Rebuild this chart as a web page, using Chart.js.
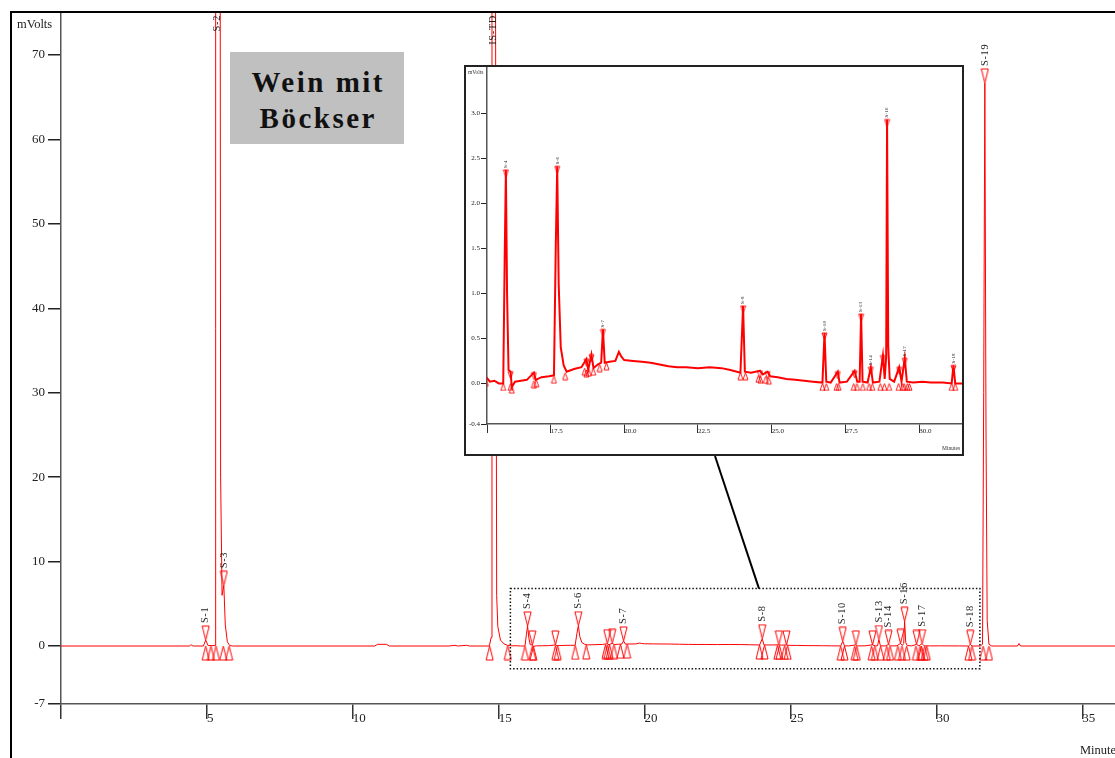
<!DOCTYPE html>
<html>
<head>
<meta charset="utf-8">
<script src="https://cdn.jsdelivr.net/npm/chart.js@4.4.0/dist/chart.umd.min.js"></script>
<style>
html,body{margin:0;padding:0;background:#fff;}
#wrap{position:relative;width:1115px;height:758px;overflow:hidden;background:#fff;}
#main{position:absolute;left:0;top:0;}
#title{position:absolute;left:230px;top:52px;width:174px;height:92px;box-sizing:border-box;padding-top:11.6px;padding-left:2.5px;
  background:#c0c0c0;font:bold 29px "Liberation Serif",serif;letter-spacing:2.5px;color:#111;text-align:center;line-height:36.6px;}
#insetBox{position:absolute;left:464px;top:65px;width:496px;height:387px;border:2px solid #222;background:#fff;overflow:hidden;}
#inset{position:absolute;left:0;top:0;}
</style>
</head>
<body>
<div id="wrap">
  <canvas id="main" width="1115" height="758"></canvas>
  <div id="title">Wein mit<br>Böckser</div>
  <div id="insetBox"><canvas id="inset" width="496" height="387"></canvas></div>
</div>
<script>
// ---------- DATA ----------
const traceMin = [0.00,4.40,4.46,4.52,4.88,4.96,5.04,5.28,5.30,5.37,5.44,5.47,5.52,5.58,5.63,5.70,5.78,5.90,
  10.75,10.85,11.15,11.25,13.30,13.50,13.60,13.90,14.00,14.68,14.74,14.77,14.83,14.89,14.93,14.97,15.06,15.18,15.30,
  15.45,15.60,15.75,15.90,15.95,15.99,16.03,16.08,16.15,16.19,16.30,16.50,16.70,16.94,17.00,17.20,17.45,17.62,17.68,
  17.73,17.78,17.85,17.95,18.05,18.30,18.55,18.72,18.78,18.89,18.96,19.10,19.22,19.28,19.34,19.50,19.70,19.82,19.90,
  20.00,20.30,20.60,20.90,21.20,21.50,21.80,22.10,22.50,22.90,23.30,23.60,23.94,24.03,24.09,24.30,24.60,24.70,24.86,
  24.95,25.20,25.50,25.80,26.10,26.40,26.72,26.79,26.85,27.00,27.24,27.30,27.55,27.81,27.90,27.98,28.03,28.08,28.25,
  28.36,28.43,28.65,28.77,28.83,28.88,28.91,28.95,29.00,29.15,29.32,29.40,29.51,29.58,29.80,30.10,30.40,30.80,31.10,
  31.16,31.22,31.50,31.58,31.62,31.66,31.70,31.74,31.80,31.90,32.78,32.83,32.88,36.50];
const traceMv = [0,0,0.15,0,0,0.7,0.05,0.05,150,250,150,20,6,7.2,2.5,0.5,0.05,0,
  0,0.2,0.2,0,0,0.08,0,0.08,0,0,1.0,80,250,80,6,2.3,0.7,0.25,0.08,
  0.02,0.03,0,0,1.4,2.37,1.0,0.15,0.13,-0.04,0.02,0.03,0.04,0.12,0.04,0.07,0.08,0.09,1.5,
  2.41,1.1,0.4,0.2,0.13,0.16,0.18,0.27,0.15,0.32,0.17,0.21,0.23,0.60,0.23,0.24,0.25,0.35,0.30,
  0.26,0.25,0.24,0.23,0.21,0.19,0.18,0.18,0.17,0.18,0.17,0.15,0.12,0.86,0.13,0.12,0.14,0.10,0.13,
  0.08,0.07,0.05,0.04,0.03,0.02,0.01,0.56,0.02,0.01,0.13,0.01,0.02,0.14,0.02,0.02,0.77,0.02,0.01,
  0.18,0.01,0.02,0.31,0.05,0.30,2.93,0.40,0.05,0.02,0.18,0.02,0.28,0.02,0.01,0.02,0.01,0.01,0,
  0.20,0,0,0.2,30,66.7,25,3,0.2,0,0,0.3,0,0];

// peak apex markers (inverted triangles) and names
const apexMin = [4.96,5.37,5.58,14.83,15.99,16.15,16.94,17.73,18.72,18.89,19.28,24.03,24.60,24.86,26.79,27.24,27.81,28.03,28.36,28.77,28.91,29.32,29.51,31.16,31.66];
const apexMv  = [0.7,250,7.2,250,2.37,0.13,0.12,2.41,0.27,0.32,0.60,0.86,0.14,0.13,0.56,0.13,0.14,0.77,0.18,0.31,2.93,0.18,0.28,0.20,66.7];
const apexLabel = ['S-1','S-2','S-3','IS-TD','S-4','','','S-6','','','S-7','S-8','','','S-10','','','S-13','S-14','','S-16','','S-17','S-18','S-19'];

// peak start / end markers (triangles on the baseline)
const bndMin = [4.96,5.14,5.31,5.56,5.76,14.69,15.31,15.90,16.15,16.19,16.94,17.02,17.62,18.00,18.66,18.72,18.80,18.95,19.17,19.40,
  23.94,24.11,24.55,24.62,24.80,24.90,26.72,26.85,27.20,27.27,27.78,27.89,28.09,28.30,28.41,28.68,28.82,28.98,29.30,29.44,29.49,29.60,29.67,
  31.10,31.22,31.60,31.80];
const bndMv = [0,0,0,0,0,0,0.05,0,0,-0.03,0.03,0.04,0.08,0.12,0.17,0.15,0.16,0.17,0.21,0.23,
  0.12,0.12,0.09,0.08,0.08,0.07,0,0,0,0,0,0,0,0,0,0,0,0,0,0,0,0,0,
  0,0,0,0];

// axes ticks
const mainXTicks = [0,5,10,15,20,25,30,35];
const mainXTickLabels = ['','5','10','15','20','25','30','35'];
const mainYTicks = [-6.87,0,10,20,30,40,50,60,70];
const mainYTickLabels = ['-7','0','10','20','30','40','50','60','70'];
const insetXTicks = [15.35,17.5,20,22.5,25,27.5,30];
const insetXTickLabels = ['','17.5','20.0','22.5','25.0','27.5','30.0'];
const insetYTicks = [-0.45,0,0.5,1,1.5,2,2.5,3];
const insetYTickLabels = ['-0.4','0.0','0.5','1.0','1.5','2.0','2.5','3.0'];

// zoomed region shown in the inset (main-chart coordinates)
const zoomBoxMin = [15.4, 31.49];
const zoomBoxMv = [-2.7, 6.8];
const connectorMin = 23.92;

// ---------- helpers ----------
const RED = '#ff0000';
const SERIF = '"Liberation Serif", "Times New Roman", serif';

function triImage(w, h, kind, lw) {
  const c = document.createElement('canvas');
  c.width = w + 2; c.height = 2 * h + 2;
  const g = c.getContext('2d');
  g.strokeStyle = RED; g.lineWidth = lw || 1;
  const cx = c.width / 2, cy = c.height / 2;
  g.beginPath();
  if (kind === 'downTip') { g.moveTo(cx - w / 2, cy - h); g.lineTo(cx + w / 2, cy - h); g.lineTo(cx, cy); }
  else if (kind === 'upTip') { g.moveTo(cx, cy); g.lineTo(cx + w / 2, cy + h); g.lineTo(cx - w / 2, cy + h); }
  else { g.moveTo(cx - w / 2, cy); g.lineTo(cx + w / 2, cy); g.lineTo(cx, cy + h); }
  g.closePath(); g.stroke();
  return c;
}
const MAIN_TRI_H = 14;
const mainDown = triImage(7, MAIN_TRI_H, 'downTip');
const mainUp = triImage(7, 14, 'upTip');
const insetDown = triImage(5, 7, 'downBase', 0.9);
const insetUp = triImage(5, 7, 'upTip', 0.9);

const pts = (xs, ys) => xs.map((t, i) => ({x: t, y: ys[i]}));

function off(chart) { return chart.$off || {x: 0, y: 0}; }

function peakLabelPlugin(id, fontSize, mode) {
  return {
    id: id,
    afterDatasetsDraw(chart) {
      const xs = chart.scales.x, ys = chart.scales.y, area = chart.chartArea;
      const ctx = chart.ctx;
      ctx.save();
      ctx.font = fontSize + 'px ' + SERIF;
      ctx.fillStyle = '#222';
      ctx.textAlign = 'left';
      ctx.textBaseline = 'middle';
      try { ctx.letterSpacing = mode === 'main' ? '0.6px' : '0.2px'; } catch (e) {}
      apexMin.forEach((t, i) => {
        const lab = apexLabel[i];
        if (!lab) return;
        if (t < xs.min || t > xs.max) return;
        const x = xs.getPixelForValue(t);
        const yp = ys.getPixelForValue(apexMv[i]);
        const w = ctx.measureText(lab).width;
        let bottom = mode === 'main' ? yp - MAIN_TRI_H - 3 : yp - 2;
        if (bottom - w < area.top + 3) bottom = area.top + 3 + w;
        ctx.save();
        ctx.translate(x, bottom);
        ctx.rotate(-Math.PI / 2);
        ctx.fillText(lab, 0, 0);
        ctx.restore();
      });
      ctx.restore();
    }
  };
}

const mainDecor = {
  id: 'mainDecor',
  afterDraw(chart) {
    const ctx = chart.ctx, xs = chart.scales.x, ys = chart.scales.y, o = off(chart);
    ctx.save();
    // dotted zoom box
    ctx.strokeStyle = '#111'; ctx.lineWidth = 1.5; ctx.setLineDash([1.5, 2]);
    const bx0 = xs.getPixelForValue(zoomBoxMin[0]), bx1 = xs.getPixelForValue(zoomBoxMin[1]);
    const by0 = ys.getPixelForValue(zoomBoxMv[1]), by1 = ys.getPixelForValue(zoomBoxMv[0]);
    ctx.strokeRect(bx0, by0, bx1 - bx0, by1 - by0);
    ctx.setLineDash([]);
    // connector from inset to zoom box
    ctx.lineWidth = 2; ctx.strokeStyle = '#000';
    ctx.beginPath(); ctx.moveTo(715 - o.x, 456 - o.y); ctx.lineTo(xs.getPixelForValue(connectorMin), by0); ctx.stroke();
    // frame
    ctx.fillStyle = '#000';
    ctx.fillRect(10 - o.x, 11 - o.y, 2, 760);
    ctx.fillRect(10 - o.x, 11 - o.y, 1120, 2);
    // axis captions
    ctx.fillStyle = '#222';
    ctx.font = '12.5px ' + SERIF;
    ctx.textBaseline = 'middle'; ctx.textAlign = 'left';
    ctx.fillText('mVolts', 17 - o.x, 25 - o.y);
    ctx.fillText('Minutes', 1080 - o.x, 751 - o.y);
    ctx.restore();
  }
};

const insetDecor = {
  id: 'insetDecor',
  afterDraw(chart) {
    const ctx = chart.ctx, o = off(chart);
    ctx.save();
    ctx.fillStyle = '#333';
    ctx.font = '5.5px ' + SERIF;
    ctx.textBaseline = 'middle'; ctx.textAlign = 'left';
    ctx.fillText('mVolts', 2 - o.x, 6 - o.y);
    ctx.fillText('Minutes', 476 - o.x, 382 - o.y);
    ctx.restore();
  }
};

function axisX(min, max, ticks, labels, h, tickLen, pad, fontSize, lw) {
  return {
    type: 'linear', min: min, max: max,
    afterBuildTicks: s => { s.ticks = ticks.map(v => ({value: v})); },
    afterFit: s => { s.height = h; },
    grid: {drawOnChartArea: false, drawTicks: true, tickLength: tickLen, color: '#333', lineWidth: lw},
    border: {color: '#555', width: 1.5},
    ticks: {align: 'start', padding: pad, color: '#222', autoSkip: false, maxRotation: 0,
      font: {family: SERIF, size: fontSize}, callback: (v, i) => labels[i]}
  };
}
function axisY(min, max, ticks, labels, w, tickLen, pad, fontSize, lw) {
  return {
    type: 'linear', min: min, max: max,
    afterBuildTicks: s => { s.ticks = ticks.map(v => ({value: v})); },
    afterFit: s => { s.width = w; },
    grid: {drawOnChartArea: false, drawTicks: true, tickLength: tickLen, color: '#222', lineWidth: lw},
    border: {color: '#555', width: 1.5},
    ticks: {padding: pad, color: '#222', autoSkip: false,
      font: {family: SERIF, size: fontSize}, callback: (v, i) => labels[i]}
  };
}

function mainConfig() {
  return {
    type: 'scatter',
    data: {datasets: [
      {data: pts(traceMin, traceMv), showLine: true, borderColor: RED, borderWidth: 1, pointRadius: 0, tension: 0, order: 3},
      {data: pts(apexMin, apexMv), pointStyle: mainDown, pointRadius: 5, showLine: false, order: 1},
      {data: pts(bndMin, bndMv), pointStyle: mainUp, pointRadius: 5, showLine: false, order: 2}
    ]},
    options: {
      responsive: false, maintainAspectRatio: false, animation: false, devicePixelRatio: 1, events: [],
      layout: {padding: {top: 12, left: 0, right: 0, bottom: 0}},
      plugins: {legend: {display: false}, tooltip: {enabled: false}},
      scales: {
        x: axisX(0, 36.12, mainXTicks, mainXTickLabels, 54, 15, -8, 13, 1.5),
        y: axisY(-6.87, 75.1, mainYTicks, mainYTickLabels, 61, 13, 3, 13, 1.5)
      }
    },
    plugins: [mainDecor, peakLabelPlugin('mainLabels', 10.5, 'main')]
  };
}

function insetConfig() {
  return {
    type: 'scatter',
    data: {datasets: [
      {data: pts(traceMin, traceMv), showLine: true, borderColor: RED, borderWidth: 2, pointRadius: 0, tension: 0, order: 3},
      {data: pts(apexMin, apexMv), pointStyle: insetDown, pointRadius: 3, showLine: false, order: 1},
      {data: pts(bndMin, bndMv), pointStyle: insetUp, pointRadius: 3, showLine: false, order: 2}
    ]},
    options: {
      responsive: false, maintainAspectRatio: false, animation: false, devicePixelRatio: 1, events: [],
      layout: {padding: 0},
      plugins: {legend: {display: false}, tooltip: {enabled: false}},
      scales: {
        x: axisX(15.35, 31.45, insetXTicks, insetXTickLabels, 30, 9, -6, 7, 1),
        y: axisY(-0.45, 3.51, insetYTicks, insetYTickLabels, 21, 6, 1, 7, 1)
      }
    },
    plugins: [insetDecor, peakLabelPlugin('insetLabels', 5, 'inset')]
  };
}

// build a chart so that its plot area lands exactly on the target box (container coords)
function buildChart(canvas, cfgFn, target) {
  let chart = new Chart(canvas, cfgFn());
  for (let k = 0; k < 2; k++) {
    const a = chart.chartArea, W = chart.width, H = chart.height;
    const prev = off(chart);
    const padL = a.left, padT = a.top, padR = W - a.right, padB = H - a.bottom;
    const newW = Math.round(padL + (target.right - target.left) + padR);
    const newH = Math.round(padT + (target.bottom - target.top) + padB);
    const o = {x: Math.round(target.left - padL), y: Math.round(target.top - padT)};
    chart.destroy();
    canvas.width = newW; canvas.height = newH;
    canvas.style.width = newW + 'px'; canvas.style.height = newH + 'px';
    canvas.style.left = o.x + 'px'; canvas.style.top = o.y + 'px';
    chart = new Chart(canvas, cfgFn());
    chart.$off = o;
    chart.draw();
  }
  return chart;
}

buildChart(document.getElementById('main'), mainConfig, {left: 61, top: 12, right: 1115, bottom: 704});
buildChart(document.getElementById('inset'), insetConfig, {left: 21, top: 0, right: 496, bottom: 357});
</script>
</body>
</html>
